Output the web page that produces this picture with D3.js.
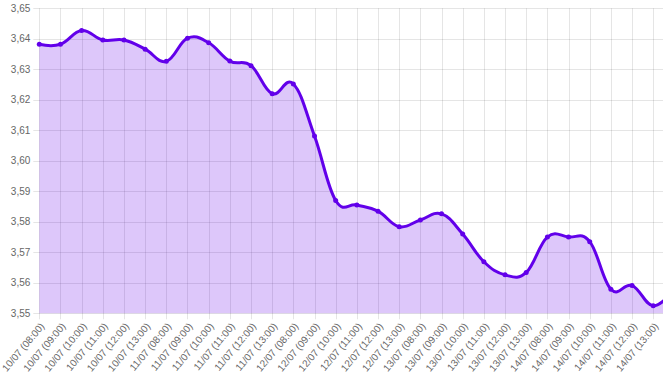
<!DOCTYPE html>
<html>
<head>
<meta charset="utf-8">
<script src="https://cdn.jsdelivr.net/npm/d3@7"></script>
<style>
    body { margin: 0; background: #fff; overflow: hidden; }
    #chart text { font-family: "Liberation Sans", Arial, Helvetica, sans-serif; font-size: 10px; fill: #666; }
</style>
</head>
<body>
<div id="chart"></div>
<script>
const labels = [
    "10/07 (08:00)", "10/07 (09:00)", "10/07 (10:00)", "10/07 (11:00)", "10/07 (12:00)", "10/07 (13:00)",
    "11/07 (08:00)", "11/07 (09:00)", "11/07 (10:00)", "11/07 (11:00)", "11/07 (12:00)", "11/07 (13:00)",
    "12/07 (08:00)", "12/07 (09:00)", "12/07 (10:00)", "12/07 (11:00)", "12/07 (12:00)", "12/07 (13:00)",
    "13/07 (08:00)", "13/07 (09:00)", "13/07 (10:00)", "13/07 (11:00)", "13/07 (12:00)", "13/07 (13:00)",
    "14/07 (08:00)", "14/07 (09:00)", "14/07 (10:00)", "14/07 (11:00)", "14/07 (12:00)", "14/07 (13:00)"
];

// last value sits past the right edge of the picture (no label visible)
const values = [
    3.6382, 3.6382, 3.6427, 3.6396, 3.6396, 3.6366,
    3.6326, 3.6402, 3.6387, 3.6327, 3.6312, 3.6220,
    3.6252, 3.6081, 3.5870, 3.5855, 3.5835, 3.5784,
    3.5806, 3.5826, 3.5760, 3.5669, 3.5626, 3.5634,
    3.5750, 3.5750, 3.5735, 3.5579, 3.5591, 3.5525,
    3.5580
];

const yTicks = [3.55, 3.56, 3.57, 3.58, 3.59, 3.60, 3.61, 3.62, 3.63, 3.64, 3.65];

const width = 663;
const height = 376;
const plotLeft = 39.3;
const plotTop = 8.3;
const plotBottom = 313.3;
const step = 21.17;

const lineColor = "rgb(98, 0, 234)";

const x = d3.scalePoint()
    .domain(d3.range(values.length))
    .range([plotLeft, plotLeft + step * (values.length - 1)]);

const y = d3.scaleLinear()
    .domain([3.55, 3.65])
    .range([plotBottom, plotTop]);

const svg = d3.select("#chart").append("svg")
    .attr("width", width)
    .attr("height", height);

// grid
const grid = svg.append("g");
grid.selectAll("line.h")
    .data(yTicks)
    .enter()
    .append("line")
    .attr("x1", plotLeft - 6)
    .attr("x2", width + 20)
    .attr("y1", d => Math.round(y(d)) + 0.5)
    .attr("y2", d => Math.round(y(d)) + 0.5)
    .attr("stroke", "rgba(0,0,0,0.1)");

grid.selectAll("line.v")
    .data(x.domain())
    .enter()
    .append("line")
    .attr("x1", d => Math.round(x(d)) + 0.5)
    .attr("x2", d => Math.round(x(d)) + 0.5)
    .attr("y1", plotTop)
    .attr("y2", plotBottom + 6)
    .attr("stroke", "rgba(0,0,0,0.1)");

// y labels
svg.append("g")
    .selectAll("text")
    .data(yTicks)
    .enter()
    .append("text")
    .attr("x", plotLeft - 9)
    .attr("y", d => y(d))
    .attr("dy", "0.35em")
    .attr("text-anchor", "end")
    .text(d => d3.format(".2f")(d).replace(".", ","));

// x labels, rotated 50deg
svg.append("g")
    .selectAll("text")
    .data(labels)
    .enter()
    .append("text")
    .attr("transform", (d, i) => `translate(${x(i) + 3},${plotBottom + 11}) rotate(-50)`)
    .attr("dy", "0.35em")
    .attr("text-anchor", "end")
    .text(d => d);

const curve = d3.curveCardinal.tension(-0.2);

const area = d3.area()
    .x((d, i) => x(i))
    .y0(plotBottom)
    .y1(d => y(d))
    .curve(curve);

const line = d3.line()
    .x((d, i) => x(i))
    .y(d => y(d))
    .curve(curve);

svg.append("path")
    .datum(values)
    .attr("d", area)
    .attr("fill", "rgba(98, 0, 234, 0.22)");

svg.append("path")
    .datum(values)
    .attr("d", line)
    .attr("fill", "none")
    .attr("stroke", lineColor)
    .attr("stroke-width", 3);

svg.append("g")
    .selectAll("circle")
    .data(values)
    .enter()
    .append("circle")
    .attr("cx", (d, i) => x(i))
    .attr("cy", d => y(d))
    .attr("r", 2.5)
    .attr("fill", lineColor);
</script>
</body>
</html>
